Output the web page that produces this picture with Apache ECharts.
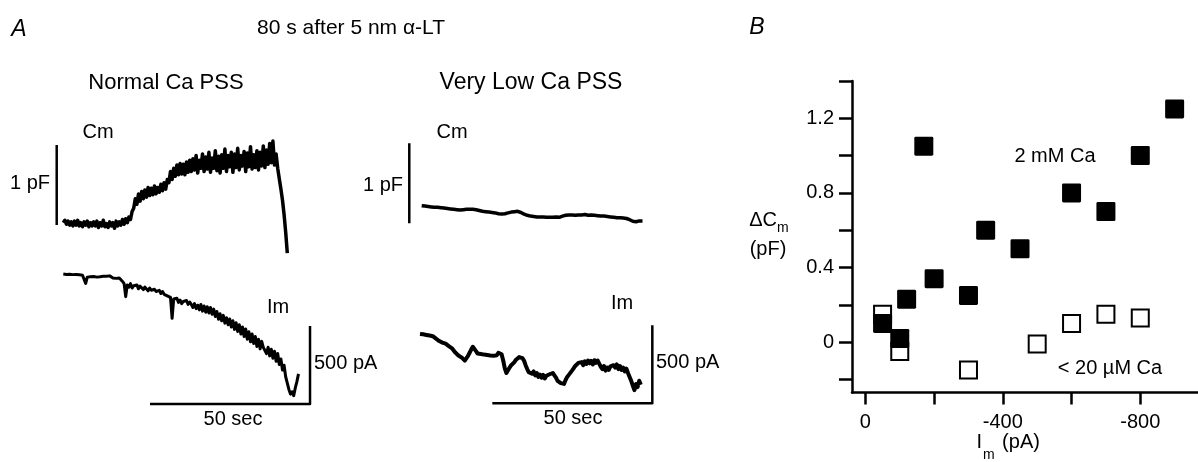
<!DOCTYPE html>
<html>
<head>
<meta charset="utf-8">
<script src="https://cdn.jsdelivr.net/npm/echarts@6/dist/echarts.min.js"></script>
<style>
html, body { margin: 0; padding: 0; background: #fff; }
#chart { width: 1198px; height: 462px; }
</style>
</head>
<body>
<div id="chart"></div>
<script>
// ---- data ----
// noisy traces are sampled every 0.5 s, the low-Ca Cm trace every 1 s
const traceDt = 0.5
const lowCmDt = 1

// normal Ca PSS, Cm (pF, relative to start)
const normalCm = [
  0.00, 0.03, -0.02, 0.02, -0.03, 0.01, -0.04, 0.02, -0.03, 0.03, -0.04, 0.00, -0.05, 0.01, -0.03, 0.02, -0.05, 0.00, -0.04, 0.01,
  -0.04, 0.02, -0.06, 0.00, -0.04, 0.03, -0.05, -0.01, -0.06, 0.01, -0.04, 0.00, -0.07, 0.02, -0.04, 0.01, -0.03, 0.04, -0.02, 0.05,
  0.00, 0.07, 0.04, 0.14, 0.18, 0.30, 0.23, 0.36, 0.27, 0.39, 0.30, 0.41, 0.32, 0.44, 0.34, 0.43, 0.35, 0.46, 0.36, 0.44,
  0.38, 0.48, 0.40, 0.50, 0.42, 0.54, 0.50, 0.64, 0.54, 0.68, 0.58, 0.72, 0.60, 0.74, 0.61, 0.73, 0.60, 0.76, 0.63, 0.78,
  0.64, 0.80, 0.66, 0.84, 0.62, 0.78, 0.68, 0.86, 0.64, 0.82, 0.67, 0.88, 0.63, 0.81, 0.68, 0.90, 0.65, 0.83, 0.62, 0.85,
  0.68, 0.92, 0.64, 0.84, 0.70, 0.88, 0.63, 0.86, 0.69, 0.93, 0.66, 0.84, 0.71, 0.89, 0.64, 0.87, 0.70, 0.95, 0.67, 0.85,
  0.69, 0.90, 0.66, 0.88, 0.71, 0.96, 0.69, 0.91, 0.73, 0.99, 0.75, 1.02, 0.72, 0.86, 0.68, 0.55, 0.42, 0.28, 0.10, -0.12,
  -0.38
]
// normal Ca PSS, Im (pA, relative to start)
const normalIm = [
  0, 2, -3, 1, -2, 0, -4, 1, -3, -1, -5, 0, -8, -14, -60, -20, -12, -18, -10, -16,
  -13, -20, -11, -18, -9, -15, -20, -14, -22, -12, -18, -25, -16, -28, -20, -26, -35, -48, -62, -145,
  -70, -85, -62, -90, -75, -82, -70, -95, -78, -88, -100, -84, -96, -108, -90, -104, -115, -98, -112, -120,
  -105, -125, -112, -130, -118, -140, -128, -150, -284, -160, -170, -155, -182, -168, -190, -176, -185, -170, -195, -180,
  -195, -215, -190, -222, -200, -230, -195, -238, -205, -245, -210, -250, -215, -258, -225, -272, -240, -290, -255, -300,
  -265, -315, -280, -325, -288, -340, -300, -355, -312, -368, -325, -385, -340, -400, -352, -418, -370, -435, -385, -445,
  -400, -465, -418, -480, -432, -470, -460, -510, -470, -525, -482, -540, -495, -560, -510, -580, -545, -615, -585, -660,
  -700, -740, -770, -755, -780, -730, -690, -640
]
// very low Ca PSS, Cm (pF)
const lowCm = [
  0, -0.005, -0.01, -0.015, -0.02, -0.02, -0.025, -0.03, -0.035, -0.04,
  -0.045, -0.05, -0.055, -0.05, -0.045, -0.045, -0.045, -0.05, -0.06, -0.07,
  -0.075, -0.08, -0.085, -0.09, -0.1, -0.105, -0.1, -0.09, -0.08, -0.075,
  -0.07, -0.085, -0.105, -0.12, -0.13, -0.135, -0.14, -0.14, -0.14, -0.145,
  -0.145, -0.145, -0.14, -0.145, -0.13, -0.12, -0.115, -0.115, -0.12, -0.115,
  -0.115, -0.11, -0.12, -0.115, -0.12, -0.125, -0.13, -0.13, -0.135, -0.14,
  -0.145, -0.15, -0.15, -0.155, -0.16, -0.175, -0.195, -0.2, -0.19, -0.19
]
// very low Ca PSS, Im (pA)
const lowIm = [
  0, -4, -2, -8, -6, -12, -10, -16, -14, -22,
  -30, -38, -45, -50, -55, -52, -62, -70, -78, -85,
  -92, -100, -118, -130, -138, -145, -150, -160, -170, -165,
  -140, -120, -100, -82, -90, -110, -125, -118, -128, -122,
  -132, -120, -135, -125, -138, -128, -140, -132, -136, -120,
  -112, -130, -170, -220, -250, -240, -215, -200, -190, -180,
  -165, -155, -148, -140, -155, -170, -200, -225, -245, -235,
  -255, -240, -265, -250, -275, -260, -280, -262, -285, -268,
  -278, -258, -270, -250, -265, -280, -300, -290, -315, -305,
  -320, -295, -275, -262, -250, -235, -220, -205, -195, -185,
  -195, -180, -200, -175, -192, -170, -188, -172, -195, -168,
  -185, -170, -190, -210, -225, -205, -235, -215, -230, -208,
  -220, -200, -215, -195, -225, -205, -230, -215, -240, -222,
  -250, -275, -300, -330, -360, -320, -340, -300, -325
]
// scale bars
const cmBar = 1      // pF
const imBar = 500    // pA
const timeBar = 50   // s

// panel B: 2 mM Ca (filled) and < 20 uM Ca (open)
const highCaIm = [-50, -100, -120, -170, -200, -300, -350, -450, -600, -700, -800, -900]
const highCaDCm = [0.10, 0.02, 0.23, 1.05, 0.34, 0.25, 0.60, 0.50, 0.80, 0.70, 1.00, 1.25]
const lowCaIm = [-50, -100, -300, -500, -600, -700, -800]
const lowCaDCm = [0.15, -0.05, -0.15, -0.01, 0.10, 0.15, 0.13]
const dcmTicks = [-0.2, 0, 0.2, 0.4, 0.6, 0.8, 1.0, 1.2, 1.4]
const dcmLabels = [0, 0.4, 0.8, 1.2]
const imTicks = [0, -200, -400, -600, -800]
const imLabels = [0, -400, -800]

// ---- chart ----
const font = '"Liberation Sans", Arial, sans-serif'
const series = (vals, dt) => vals.map((v, i) => [i * dt, v])
const zip = (xs, ys) => xs.map((x, i) => [x, ys[i]])
// square with slightly rounded corners
const softSquare = 'path://M1.5,0H18.5A1.5,1.5 0 0 1 20,1.5V18.5A1.5,1.5 0 0 1 18.5,20H1.5A1.5,1.5 0 0 1 0,18.5V1.5A1.5,1.5 0 0 1 1.5,0Z'

// bar anchors (time s, value) inside each trace grid
const nCmBarAt = [-2.06, -0.03]
const lCmBarAt = [-3.88, -0.22]
const nImBarAt = [77.1, -833]
const lImBarAt = [72.6, -444]

function traceGrid (left, top, height) {
  return { left: left, top: top, width: 272, height: height }
}
function hiddenX (i) {
  return { type: 'value', gridIndex: i, min: -5, max: 80, show: false }
}
function hiddenY (i, min, max) {
  return { type: 'value', gridIndex: i, min: min, max: max, show: false }
}
function line (i, data, width) {
  return {
    type: 'line', xAxisIndex: i, yAxisIndex: i, data: data,
    showSymbol: false, symbol: 'none', silent: true,
    lineStyle: { color: '#000', width: width, join: 'round' }
  }
}
function txt (x, y, text, size, extra) {
  return Object.assign({
    type: 'text', x: x, y: y, silent: true,
    style: Object.assign({
      text: text, fill: '#000', fontSize: size, fontFamily: font,
      align: 'center', verticalAlign: 'middle'
    }, (extra && extra.style) || {})
  }, extra && extra.el)
}

const myChart = echarts.init(document.getElementById('chart'))
myChart.setOption({
  animation: false,
  backgroundColor: '#fff',
  grid: [
    traceGrid(47.3, 102.7, 160),
    traceGrid(47.3, 258.4, 156),
    traceGrid(405.7, 85.7, 160),
    traceGrid(404, 318.4, 124.8),
    { left: 852, top: 81, right: 0, height: 311.5 }
  ],
  xAxis: [
    hiddenX(0), hiddenX(1), hiddenX(2), hiddenX(3),
    {
      type: 'value', gridIndex: 4, inverse: true, min: -968, max: 39,
      axisLine: { onZero: false, lineStyle: { color: '#000', width: 2.5 } },
      axisTick: { show: true, length: 12, lineStyle: { color: '#000', width: 2.5 }, customValues: imTicks },
      axisLabel: { color: '#000', fontSize: 20, fontFamily: font, margin: 20, customValues: imLabels },
      splitLine: { show: false }
    }
  ],
  yAxis: [
    hiddenY(0, -0.5, 1.5), hiddenY(1, -900, 100), hiddenY(2, -0.5, 1.5), hiddenY(3, -700, 100),
    {
      type: 'value', gridIndex: 4, min: -0.27, max: 1.4,
      axisLine: { show: true, onZero: false, lineStyle: { color: '#000', width: 2.5 } },
      axisTick: { show: true, length: 13, lineStyle: { color: '#000', width: 2.5 }, customValues: dcmTicks },
      axisLabel: { color: '#000', fontSize: 20, fontFamily: font, margin: 18, customValues: dcmLabels },
      splitLine: { show: false }
    }
  ],
  series: [
    line(0, series(normalCm, traceDt), 3.5),
    line(0, [nCmBarAt, [nCmBarAt[0], nCmBarAt[1] + cmBar]], 2.5),
    line(1, series(normalIm, traceDt), 3),
    line(1, [[nImBarAt[0] - timeBar, nImBarAt[1]], nImBarAt, [nImBarAt[0], nImBarAt[1] + imBar]], 2.5),
    line(2, series(lowCm, lowCmDt), 3.5),
    line(2, [lCmBarAt, [lCmBarAt[0], lCmBarAt[1] + cmBar]], 2.5),
    line(3, series(lowIm, traceDt), 4),
    line(3, [[lImBarAt[0] - timeBar, lImBarAt[1]], lImBarAt, [lImBarAt[0], lImBarAt[1] + imBar]], 2.5),
    {
      name: '< 20 µM Ca', type: 'scatter', xAxisIndex: 4, yAxisIndex: 4,
      data: zip(lowCaIm, lowCaDCm), symbol: 'rect', symbolSize: 17,
      itemStyle: { color: '#fff', borderColor: '#000', borderWidth: 2, opacity: 1 }
    },
    {
      name: '2 mM Ca', type: 'scatter', xAxisIndex: 4, yAxisIndex: 4,
      data: zip(highCaIm, highCaDCm), symbol: softSquare, symbolSize: 19,
      itemStyle: { color: '#000', opacity: 1 }
    }
  ],
  graphic: [
    txt(19, 30, 'A', 23, { style: { fontStyle: 'italic' } }),
    txt(757, 28, 'B', 23, { style: { fontStyle: 'italic' } }),
    txt(351, 28, '80 s after 5 nm α-LT', 21),
    txt(166, 83, 'Normal Ca PSS', 22),
    txt(531, 83, 'Very Low Ca PSS', 23),
    txt(98, 132, 'Cm', 20),
    txt(50, 183, '1 pF', 20, { style: { align: 'right' } }),
    txt(278, 307, 'Im', 20),
    txt(314, 363, '500 pA', 20, { style: { align: 'left' } }),
    txt(233, 419, '50 sec', 20),
    txt(452, 132, 'Cm', 20),
    txt(403, 185, '1 pF', 20, { style: { align: 'right' } }),
    txt(622, 303, 'Im', 20),
    txt(656, 362, '500 pA', 20, { style: { align: 'left' } }),
    txt(573, 418, '50 sec', 20),
    // panel B annotations and axis names
    txt(1055, 156, '2 mM Ca', 20),
    txt(1110, 368, '< 20 µM Ca', 20),
    txt(777, 220, 'ΔC', 20, { style: { align: 'right' } }),
    txt(777, 228, 'm', 14, { style: { align: 'left' } }),
    txt(768, 249, '(pF)', 20),
    txt(982, 442, 'I', 20, { style: { align: 'right' } }),
    txt(983, 455, 'm', 14, { style: { align: 'left' } }),
    txt(1021, 442, '(pA)', 20)
  ]
})
window.addEventListener('resize', function () {
  myChart.resize()
})
</script>
</body>
</html>
